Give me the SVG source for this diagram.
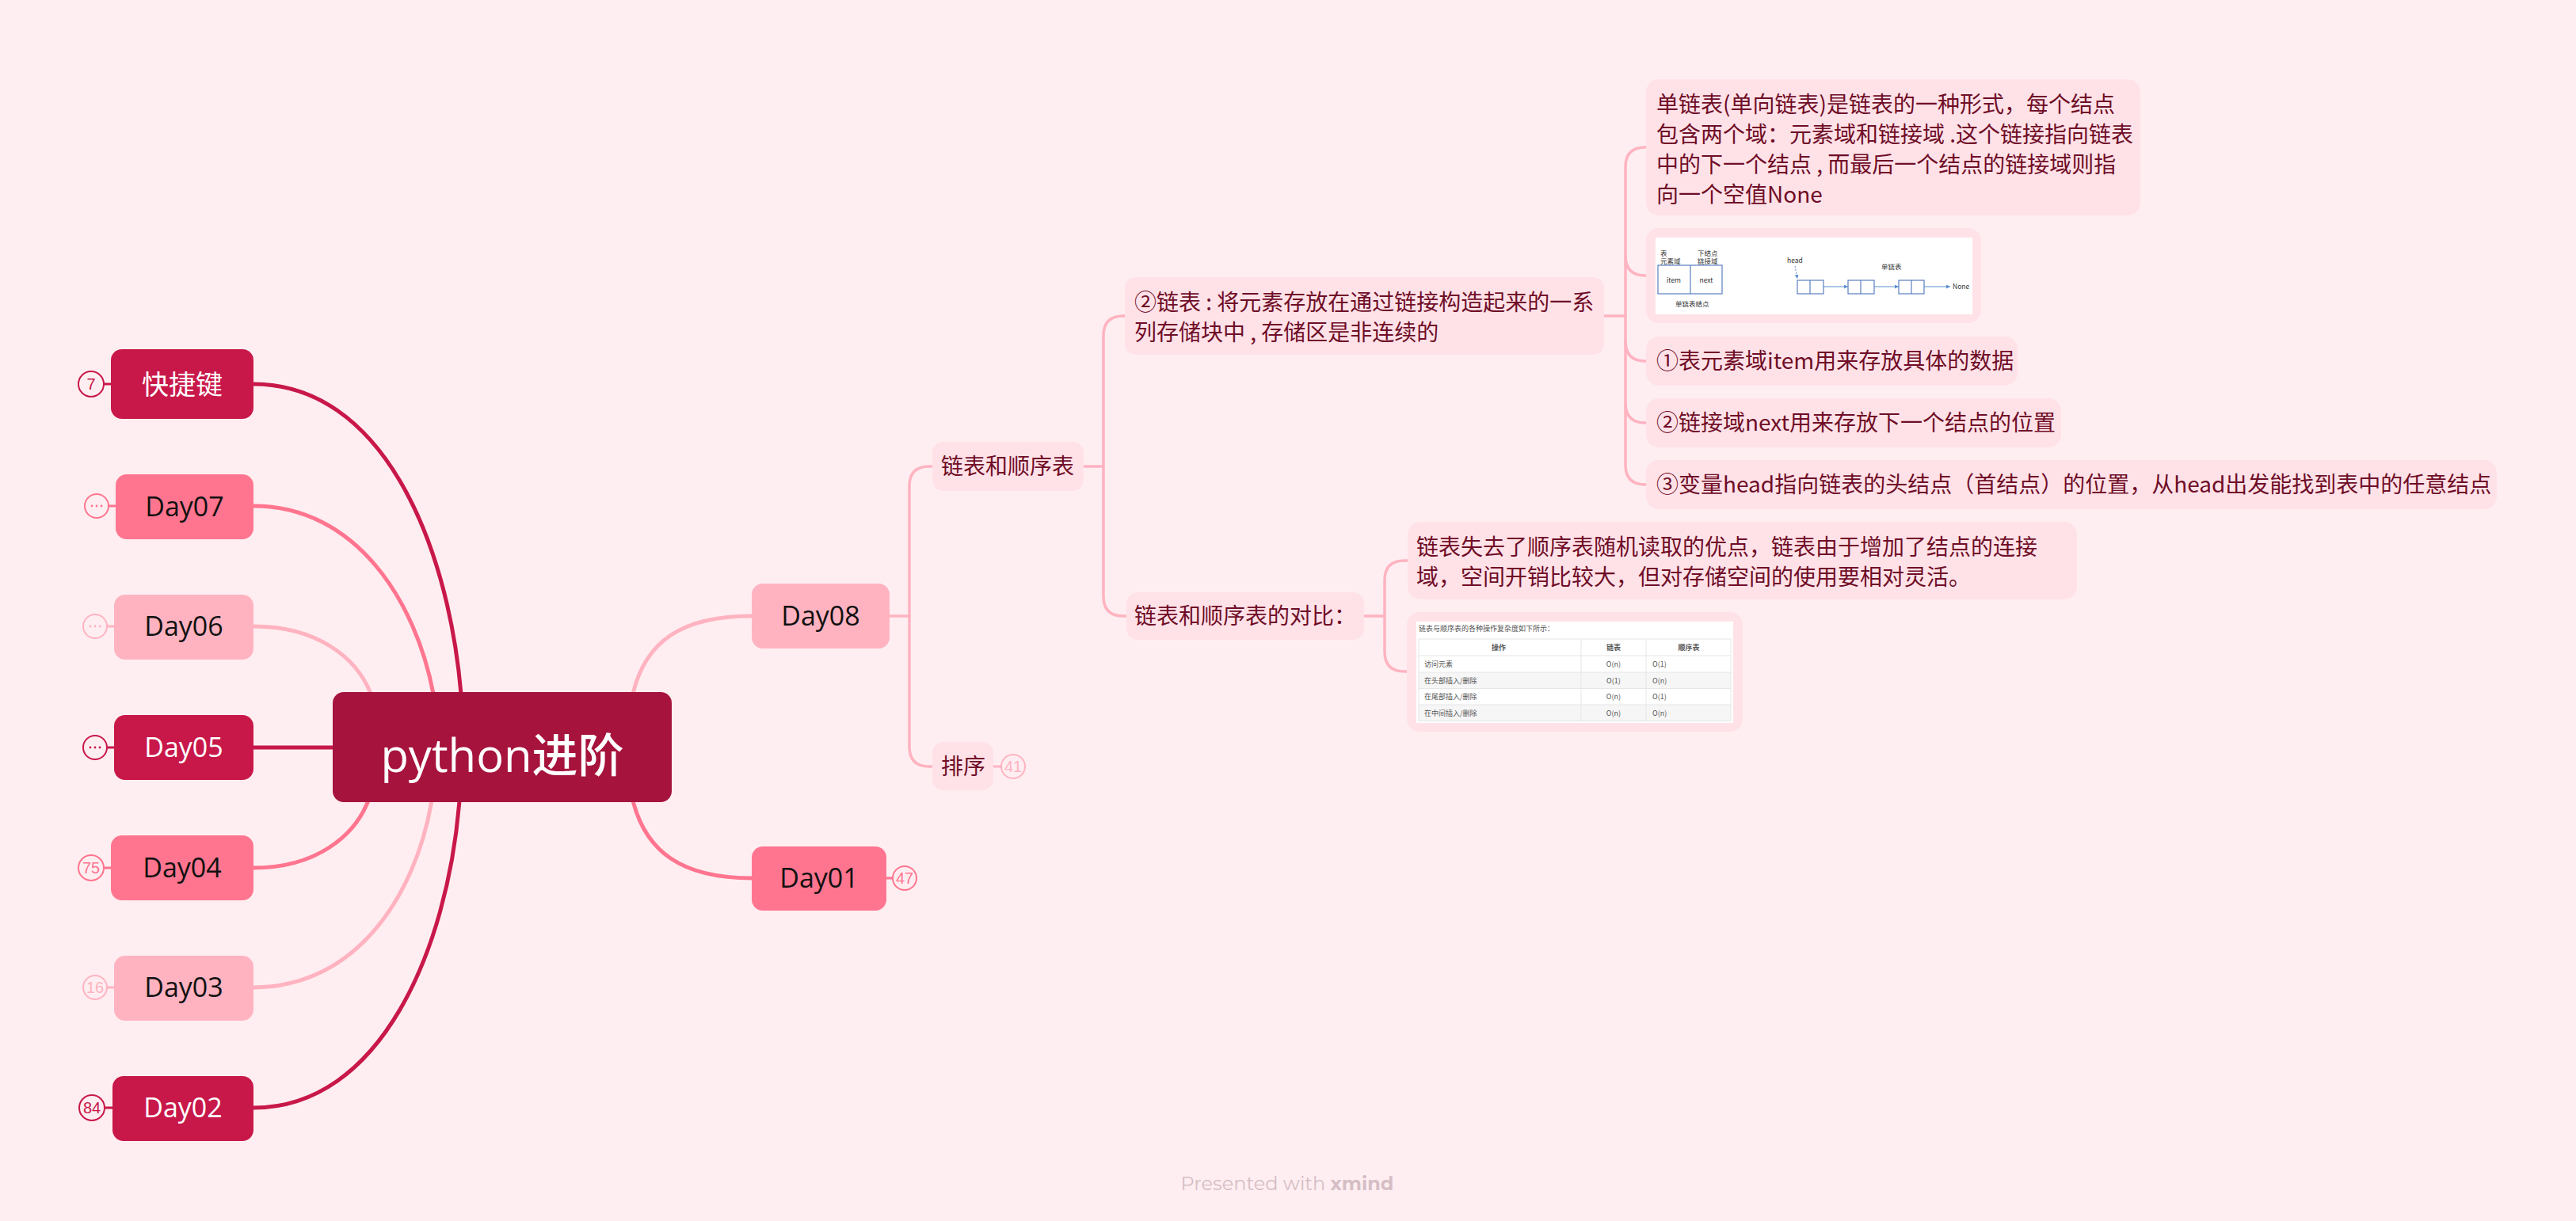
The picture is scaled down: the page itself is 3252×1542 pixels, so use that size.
<svg xmlns="http://www.w3.org/2000/svg" width="3252" height="1542" viewBox="0 0 3252 1542">
<style>
.bg{fill:#FFEEF1}
.t{font-family:"Open Sans","Noto Sans CJK SC",sans-serif;font-weight:500}
.cjk{font-family:"Noto Sans CJK SC","Noto Sans",sans-serif}
.main{font-size:34px;text-anchor:middle}
.wt{fill:#FFFFFF}
.bk{fill:#111111}
.lt{fill:#FFE2E8}
.sub{font-size:28px;fill:#6F0D27}
.c1{fill:#C8184A}
.c2{fill:#FF758F}
.c3{fill:#FFB3C1}
.ln{fill:none;stroke-linecap:round}
.badge{fill:#FFEEF1;stroke-width:2}
.bt{font-family:"Liberation Sans","Noto Sans",sans-serif;font-size:20px;text-anchor:middle}
.sm{font-family:"Noto Sans CJK SC",sans-serif;font-size:8.5px;fill:#333}
.tb{font-family:"Noto Sans CJK SC","Liberation Sans",sans-serif;font-size:9px;fill:#555}
.blue{fill:none;stroke:#5B7FC0;stroke-width:1.2}
</style>
<defs>
<marker id="ar" viewBox="0 0 6 6" refX="6" refY="3" markerWidth="5" markerHeight="5" orient="auto"><path d="M0,0 L6,3 L0,6 z" fill="#5B8FD0"/></marker>
</defs>
<rect class="bg" x="0" y="0" width="3252" height="1542"/>

<g id="connectors">
  <path class="ln" stroke="#C8184A" stroke-width="5" d="M320,485 C480,485 565,680 582,876"/>
  <path class="ln" stroke="#FF758F" stroke-width="5" d="M320,639 C450,639 525,760 547,876"/>
  <path class="ln" stroke="#FFB3C1" stroke-width="5" d="M320,791 C400,791 450,830 468,876"/>
  <path class="ln" stroke="#C8184A" stroke-width="5" d="M320,944 H422"/>
  <path class="ln" stroke="#FF758F" stroke-width="5" d="M320,1096 C400,1096 448,1055 465,1011"/>
  <path class="ln" stroke="#FFB3C1" stroke-width="5" d="M320,1247 C450,1247 525,1130 545,1011"/>
  <path class="ln" stroke="#C8184A" stroke-width="5" d="M320,1399 C480,1399 565,1200 580,1011"/>
  <path class="ln" stroke="#FFB3C1" stroke-width="5" d="M799,876 C815,810 860,778 949,778"/>
  <path class="ln" stroke="#FF758F" stroke-width="5" d="M799,1011 C815,1075 860,1109 949,1109"/>
  <path class="ln" stroke="#C8184A" stroke-width="3" d="M131,485 H140"/>
  <path class="ln" stroke="#FF758F" stroke-width="3" d="M137,639 H146"/>
  <path class="ln" stroke="#FFB3C1" stroke-width="3" d="M135,791 H144"/>
  <path class="ln" stroke="#C8184A" stroke-width="3" d="M135,944 H144"/>
  <path class="ln" stroke="#FF758F" stroke-width="3" d="M131,1096 H140"/>
  <path class="ln" stroke="#FFB3C1" stroke-width="3" d="M135,1247 H144"/>
  <path class="ln" stroke="#C8184A" stroke-width="3" d="M132,1399 H142"/>
  <path class="ln" stroke="#FF758F" stroke-width="3" d="M1119,1109 H1127"/>
  <path class="ln" stroke="#FFB3C1" stroke-width="3" d="M1254,968 H1264"/>
  <g stroke="#FFB3C1" stroke-width="3.5" class="ln">
    <path d="M1123,778 H1148"/>
    <path d="M1177,589 H1173 Q1148,589 1148,614 V943 Q1148,968 1173,968 H1177"/>
    <path d="M1368,589 H1393"/>
    <path d="M1420,399 H1418 Q1393,399 1393,424 V753 Q1393,778 1418,778 H1422"/>
    <path d="M2025,399 H2052"/>
    <path d="M2078,186 H2077 Q2052,186 2052,211 V587 Q2052,612 2077,612 H2078"/>
    <path d="M2078,348 H2077 Q2052,348 2052,323"/>
    <path d="M2078,456 H2077 Q2052,456 2052,431"/>
    <path d="M2078,534 H2077 Q2052,534 2052,509"/>
    <path d="M1722,778 H1748"/>
    <path d="M1777,708 H1773 Q1748,708 1748,733 V823 Q1748,848 1773,848 H1777"/>
  </g>
</g>

<g id="root">
  <rect x="420" y="874" width="428" height="139" rx="14" fill="#A6133C"/>
  <text class="t wt" x="634" y="975" font-size="58" text-anchor="middle">python进阶</text>
</g>

<g id="n-kjj">
  <rect class="c1" x="140" y="441" width="180" height="88" rx="14"/>
  <text class="cjk main wt" x="230" y="498" font-size="36">快捷键</text>
  <circle class="badge" stroke="#C8184A" cx="115" cy="485" r="16"/>
  <text class="bt" fill="#C8184A" x="115" y="492">7</text>
</g>
<g id="n-day07">
  <rect class="c2" x="146" y="599" width="174" height="82" rx="14"/>
  <text class="t main bk" x="233" y="652">Day07</text>
  <circle class="badge" stroke="#FF758F" cx="122" cy="639" r="15"/>
  <g fill="#FF758F"><circle cx="116" cy="639" r="1.4"/><circle cx="122" cy="639" r="1.4"/><circle cx="128" cy="639" r="1.4"/></g>
</g>
<g id="n-day06">
  <rect class="c3" x="144" y="751" width="176" height="82" rx="14"/>
  <text class="t main bk" x="232" y="803">Day06</text>
  <circle class="badge" stroke="#FFB3C1" cx="120" cy="791" r="15"/>
  <g fill="#FFB3C1"><circle cx="114" cy="791" r="1.4"/><circle cx="120" cy="791" r="1.4"/><circle cx="126" cy="791" r="1.4"/></g>
</g>
<g id="n-day05">
  <rect class="c1" x="144" y="903" width="176" height="82" rx="14"/>
  <text class="t main wt" x="232" y="956">Day05</text>
  <circle class="badge" stroke="#C8184A" cx="120" cy="944" r="15"/>
  <g fill="#C8184A"><circle cx="114" cy="944" r="1.4"/><circle cx="120" cy="944" r="1.4"/><circle cx="126" cy="944" r="1.4"/></g>
</g>
<g id="n-day04">
  <rect class="c2" x="140" y="1055" width="180" height="82" rx="14"/>
  <text class="t main bk" x="230" y="1108">Day04</text>
  <circle class="badge" stroke="#FF758F" cx="115" cy="1096" r="16"/>
  <text class="bt" fill="#FF758F" x="115" y="1103">75</text>
</g>
<g id="n-day03">
  <rect class="c3" x="144" y="1207" width="176" height="82" rx="14"/>
  <text class="t main bk" x="232" y="1259">Day03</text>
  <circle class="badge" stroke="#FFB3C1" cx="120" cy="1247" r="15"/>
  <text class="bt" fill="#FFB3C1" x="120" y="1254">16</text>
</g>
<g id="n-day02">
  <rect class="c1" x="142" y="1359" width="178" height="82" rx="14"/>
  <text class="t main wt" x="231" y="1411">Day02</text>
  <circle class="badge" stroke="#C8184A" cx="116" cy="1399" r="16"/>
  <text class="bt" fill="#C8184A" x="116" y="1406">84</text>
</g>
<g id="n-day08">
  <rect class="c3" x="949" y="737" width="174" height="82" rx="14"/>
  <text class="t main bk" x="1036" y="790">Day08</text>
</g>
<g id="n-day01">
  <rect class="c2" x="949" y="1069" width="170" height="81" rx="14"/>
  <text class="t main bk" x="1034" y="1121">Day01</text>
  <circle class="badge" stroke="#FF758F" cx="1142" cy="1109" r="15"/>
  <text class="bt" fill="#FF758F" x="1142" y="1116">47</text>
</g>

<g id="n-lb">
  <rect class="lt" x="1177" y="558" width="191" height="62" rx="14"/>
  <text class="cjk sub" x="1188" y="599">链表和顺序表</text>
</g>
<g id="n-px">
  <rect class="lt" x="1177" y="937" width="77" height="61" rx="14"/>
  <text class="cjk sub" x="1188" y="978">排序</text>
  <circle class="badge" stroke="#FFB3C1" cx="1279" cy="968" r="15"/>
  <text class="bt" fill="#FFB3C1" x="1279" y="975">41</text>
</g>
<g id="n-lianbiao">
  <rect class="lt" x="1420" y="350" width="605" height="98" rx="14"/>
  <text class="cjk sub" x="1432" y="392">②链表 : 将元素存放在通过链接构造起来的一系</text>
  <text class="cjk sub" x="1432" y="430">列存储块中 , 存储区是非连续的</text>
</g>
<g id="n-duibi">
  <rect class="lt" x="1422" y="748" width="300" height="60" rx="14"/>
  <text class="cjk sub" x="1432" y="788">链表和顺序表的对比：</text>
</g>
<g id="n-dan">
  <rect class="lt" x="2078" y="100" width="624" height="172" rx="16"/>
  <text class="cjk sub" x="2091" y="142">单链表(单向链表)是链表的一种形式，每个结点</text>
  <text class="cjk sub" x="2091" y="180">包含两个域：元素域和链接域 .这个链接指向链表</text>
  <text class="cjk sub" x="2091" y="218">中的下一个结点 , 而最后一个结点的链接域则指</text>
  <text class="cjk sub" x="2091" y="256">向一个空值None</text>
</g>
<g id="n-img1">
  <rect class="lt" x="2078" y="288" width="423" height="120" rx="16"/>
  <rect x="2090" y="300" width="400" height="97" fill="#FFFFFF"/>
  <text class="sm" x="2096" y="323">表</text>
  <text class="sm" x="2096" y="333">元素域</text>
  <text class="sm" x="2143" y="323">下结点</text>
  <text class="sm" x="2143" y="333">链接域</text>
  <rect class="blue" x="2093" y="335" width="81" height="36"/>
  <line class="blue" x1="2134" y1="335" x2="2134" y2="371"/>
  <text class="sm" x="2113" y="357" text-anchor="middle">item</text>
  <text class="sm" x="2154" y="357" text-anchor="middle">next</text>
  <text class="sm" x="2115" y="387">单链表结点</text>
  <text class="sm" x="2256" y="332">head</text>
  <line x1="2266" y1="336" x2="2269" y2="352" stroke="#5B8FD0" stroke-width="1" stroke-dasharray="2,2" marker-end="url(#ar)"/>
  <text class="sm" x="2375" y="340">单链表</text>
  <rect class="blue" x="2269" y="354" width="33" height="17"/>
  <line class="blue" x1="2285" y1="354" x2="2285" y2="371"/>
  <rect class="blue" x="2333" y="354" width="33" height="17"/>
  <line class="blue" x1="2349" y1="354" x2="2349" y2="371"/>
  <rect class="blue" x="2397" y="354" width="32" height="17"/>
  <line class="blue" x1="2413" y1="354" x2="2413" y2="371"/>
  <g stroke="#5B8FD0" stroke-width="1" marker-end="url(#ar)">
    <line x1="2302" y1="362" x2="2333" y2="362"/>
    <line x1="2366" y1="362" x2="2397" y2="362"/>
    <line x1="2429" y1="362" x2="2462" y2="362"/>
  </g>
  <text class="sm" x="2465" y="365">None</text>
</g>
<g id="n-1">
  <rect class="lt" x="2078" y="425" width="469" height="62" rx="16"/>
  <text class="cjk sub" x="2091" y="466">①表元素域item用来存放具体的数据</text>
</g>
<g id="n-2">
  <rect class="lt" x="2078" y="503" width="524" height="62" rx="16"/>
  <text class="cjk sub" x="2091" y="544">②链接域next用来存放下一个结点的位置</text>
</g>
<g id="n-3">
  <rect class="lt" x="2078" y="581" width="1074" height="62" rx="16"/>
  <text class="cjk sub" x="2091" y="622">③变量head指向链表的头结点（首结点）的位置，从head出发能找到表中的任意结点</text>
</g>
<g id="n-shiqu">
  <rect class="lt" x="1777" y="659" width="845" height="98" rx="16"/>
  <text class="cjk sub" x="1788" y="701">链表失去了顺序表随机读取的优点，链表由于增加了结点的连接</text>
  <text class="cjk sub" x="1788" y="739">域，空间开销比较大，但对存储空间的使用要相对灵活。</text>
</g>
<g id="n-table">
  <rect class="lt" x="1776" y="773" width="424" height="151" rx="16"/>
  <rect x="1788" y="785" width="400" height="128" fill="#FFFFFF"/>
  <text class="tb" x="1791" y="797" font-size="8.5">链表与顺序表的各种操作复杂度如下所示：</text>
  <rect x="1791" y="849" width="394" height="20.5" fill="#F6F6F6"/>
  <rect x="1791" y="890" width="394" height="20.5" fill="#F6F6F6"/>
  <g stroke="#E6E6E6" stroke-width="1" fill="none">
    <rect x="1791" y="807" width="394" height="103.5"/>
    <line x1="1791" y1="828" x2="2185" y2="828"/>
    <line x1="1791" y1="849" x2="2185" y2="849"/>
    <line x1="1791" y1="869.5" x2="2185" y2="869.5"/>
    <line x1="1791" y1="890" x2="2185" y2="890"/>
    <line x1="1996" y1="807" x2="1996" y2="910.5"/>
    <line x1="2078" y1="807" x2="2078" y2="910.5"/>
  </g>
  <g font-weight="bold" text-anchor="middle">
    <text class="tb" x="1892" y="821">操作</text>
    <text class="tb" x="2037" y="821">链表</text>
    <text class="tb" x="2132" y="821">顺序表</text>
  </g>
  <text class="tb" x="1798" y="842">访问元素</text>
  <text class="tb" x="2037" y="842" text-anchor="middle">O(n)</text>
  <text class="tb" x="2086" y="842">O(1)</text>
  <text class="tb" x="1798" y="863">在头部插入/删除</text>
  <text class="tb" x="2037" y="863" text-anchor="middle">O(1)</text>
  <text class="tb" x="2086" y="863">O(n)</text>
  <text class="tb" x="1798" y="883">在尾部插入/删除</text>
  <text class="tb" x="2037" y="883" text-anchor="middle">O(n)</text>
  <text class="tb" x="2086" y="883">O(1)</text>
  <text class="tb" x="1798" y="904">在中间插入/删除</text>
  <text class="tb" x="2037" y="904" text-anchor="middle">O(n)</text>
  <text class="tb" x="2086" y="904">O(n)</text>
</g>

<text x="1625" y="1503" font-family="Montserrat,'Open Sans',sans-serif" font-size="24" fill="#D5BEC5" text-anchor="middle">Presented with <tspan font-weight="bold">xmind</tspan></text>
</svg>
